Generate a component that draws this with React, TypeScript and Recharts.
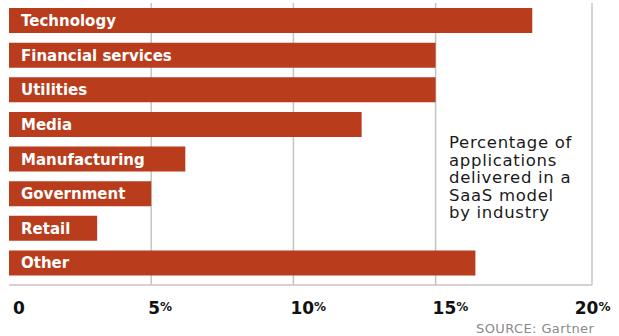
import { BarChart, Bar, XAxis, YAxis, CartesianGrid, LabelList } from "recharts";

const industries = [
  "Technology",
  "Financial services",
  "Utilities",
  "Media",
  "Manufacturing",
  "Government",
  "Retail",
  "Other",
];
const saasShare = [18.4, 15, 15, 12.4, 6.2, 5, 3.1, 16.4];
const axisTicks = [0, 5, 10, 15, 20];
const frameEdge = 20.5;
const gridValues = [5, 10, 15, frameEdge];

const noteLines = [
  "Percentage of",
  "applications",
  "delivered in a",
  "SaaS model",
  "by industry",
];
const source = "SOURCE: Gartner";

const data = industries.map((name, i) => ({ name, value: saasShare[i] }));

const FONT = '"DejaVu Sans", Verdana, sans-serif';
const BAR = "#b93c1c";
const GRID = "#c4c4c4";

const PercentTick = ({ x, y, payload }: any) => (
  <text
    x={payload.value === 0 ? x + 4 : x - 3}
    y={y + 27}
    fill="#111"
    fontFamily={FONT}
    fontWeight={700}
    fontSize={17}
  >
    {payload.value}
    {payload.value !== 0 && (
      <tspan fontSize={12} dy={-3}>
        %
      </tspan>
    )}
  </text>
);

const BarName = ({ x, y, height, value }: any) => (
  <text
    x={x + 12}
    y={y + height / 2 + 5.5}
    fill="#fff"
    fontFamily={FONT}
    fontWeight={700}
    fontSize={15}
  >
    {value}
  </text>
);

export default function App() {
  return (
    <div style={{ position: "absolute", left: 0, top: 0, width: 619, height: 336, background: "#fff" }}>
      <BarChart
        width={619}
        height={336}
        data={data}
        layout="vertical"
        barSize={25}
        margin={{ top: 3, right: 27, bottom: 21, left: 9 }}
      >
        <CartesianGrid
          horizontal={false}
          verticalValues={gridValues}
          stroke={GRID}
          strokeWidth={1.5}
        />
        <XAxis
          type="number"
          domain={[0, frameEdge]}
          ticks={axisTicks}
          height={30}
          tickLine={false}
          tickSize={0}
          tick={<PercentTick />}
          axisLine={{ stroke: GRID, strokeWidth: 1.5 }}
        />
        <YAxis type="category" dataKey="name" hide padding={{ top: 0, bottom: 5 }} />
        <Bar dataKey="value" fill={BAR} isAnimationActive={false}>
          <LabelList dataKey="name" content={<BarName />} />
        </Bar>
      </BarChart>
      <div
        style={{
          position: "absolute",
          left: 449,
          top: 134,
          fontFamily: FONT,
          fontSize: 16.5,
          lineHeight: "17.5px",
          letterSpacing: 0.7,
          color: "#1a1a1a",
        }}
      >
        {noteLines.map((l) => (
          <div key={l}>{l}</div>
        ))}
      </div>
      <div
        style={{
          position: "absolute",
          left: 476,
          top: 323,
          fontFamily: FONT,
          fontSize: 13,
          lineHeight: "12px",
          letterSpacing: 0.4,
          color: "#8a8a8a",
          whiteSpace: "nowrap",
        }}
      >
        {source}
      </div>
    </div>
  );
}
